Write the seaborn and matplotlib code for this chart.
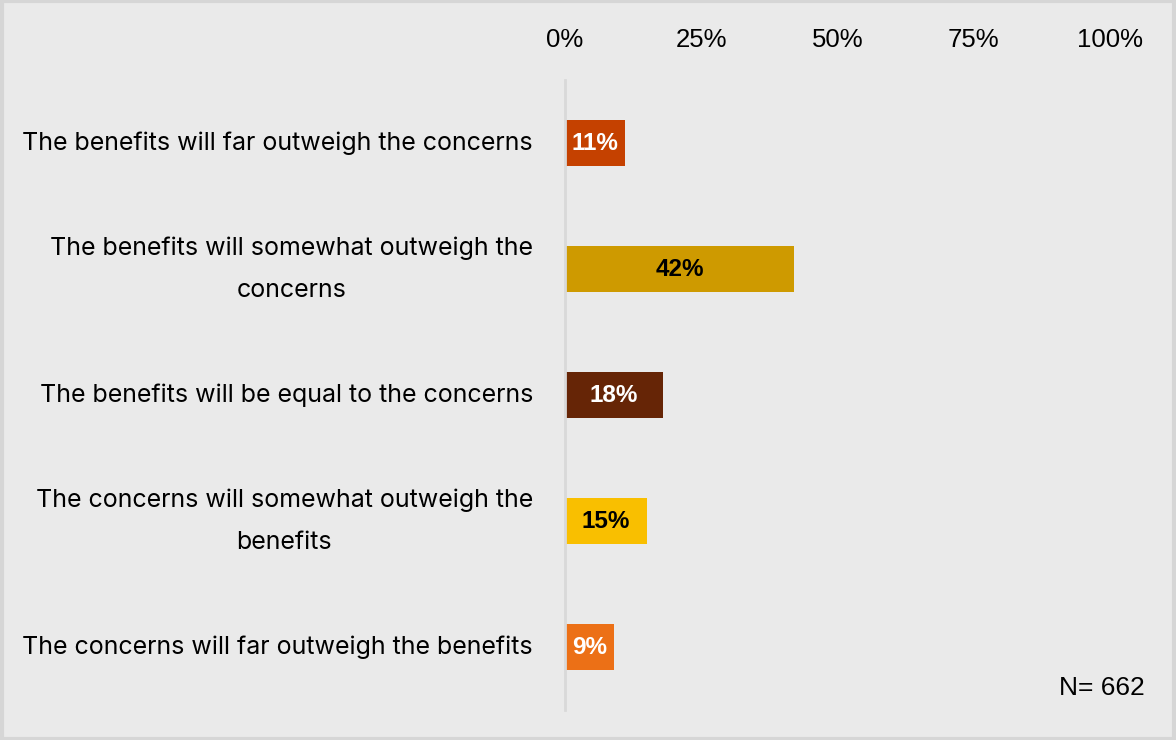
import matplotlib
matplotlib.use("Agg")
import matplotlib.pyplot as plt
import seaborn as sns
import pandas as pd
from matplotlib.patches import Rectangle

categories = [
    "The benefits will far outweigh the concerns",
    "The benefits will somewhat outweigh the\nconcerns",
    "The benefits will be equal to the concerns",
    "The concerns will somewhat outweigh the\nbenefits",
    "The concerns will far outweigh the benefits",
]
values = [11, 42, 18, 15, 9]
colors = ["#C54100", "#CE9A00", "#662506", "#F9BF00", "#EC7016"]
label_colors = ["white", "black", "white", "black", "white"]
ticks = [0, 25, 50, 75, 100]
tick_labels = ["0%", "25%", "50%", "75%", "100%"]

sns.set_theme(style="white")
plt.rcParams["font.family"] = ["Liberation Sans", "DejaVu Sans"]

bg = "#EAEAEA"
fig = plt.figure(figsize=(11.76, 7.4), dpi=100, facecolor=bg)
ax = fig.add_axes([565 / 1176, 1 - 710 / 740, (1110 - 565) / 1176, 630 / 740])
ax.set_facecolor(bg)

df = pd.DataFrame({"cat": categories, "val": values})
sns.barplot(data=df, x="val", y="cat", hue="cat", palette=colors, orient="h",
            width=0.36, legend=False, ax=ax, saturation=1, linewidth=0)

ax.set_xlim(0, 100)
ax.set_xticks(ticks)
ax.set_xticklabels(tick_labels, fontsize=18.5, color="black")
ax.xaxis.tick_top()
ax.tick_params(axis="x", length=0, pad=20.5)
ax.tick_params(axis="y", length=0, pad=23, labelcolor="black")
for lab in ax.get_yticklabels():
    lab.set_horizontalalignment("right")
    lab.set_verticalalignment("center")
    lab.set_multialignment("center")
    lab.set_fontfamily(["Inter", "DejaVu Sans"])
    lab.set_fontsize(18)
    lab.set_linespacing(2.05)
ax.set_xlabel("")
ax.set_ylabel("")
for s in ["top", "right", "bottom"]:
    ax.spines[s].set_visible(False)
ax.spines["left"].set_color("#D9D9D9")
ax.spines["left"].set_linewidth(2)

for i, (v, c) in enumerate(zip(values, label_colors)):
    ax.text(v / 2, i, f"{v}%", ha="center", va="center", fontsize=17.5,
            fontweight="bold", color=c)

fig.text(1145 / 1176, 1 - 688 / 740, "N= 662", ha="right", va="center",
         fontsize=19, color="black")

fig.patches.append(Rectangle((0.0015, 0.002), 0.997, 0.996, transform=fig.transFigure,
                             fill=False, edgecolor="#D6D6D6", linewidth=3))

fig.savefig("out.png", dpi=100, facecolor=bg)
